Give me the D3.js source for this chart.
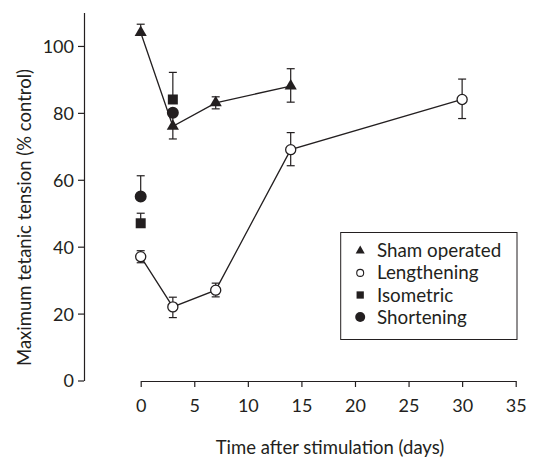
<!DOCTYPE html>
<html><head><meta charset="utf-8">
<script src="https://cdn.jsdelivr.net/npm/d3@7"></script>
<style>
html,body{margin:0;padding:0;background:#fff;}
svg{display:block;}
text{font-family:Lato,"Open Sans",sans-serif;fill:#231f20;}
</style></head>
<body>
<svg id="chart" width="533" height="459"></svg>
<script>
// ---- data ----
const xTickValues = [0, 5, 10, 15, 20, 25, 30, 35];
const yTickValues = [0, 20, 40, 60, 80, 100];
const xTitle = "Time after stimulation (days)";
const yTitle = "Maximum tetanic tension (% control)";

const shamDays = [0, 3, 7, 14];
const shamValues = [104, 76, 83, 88];
const shamErrUp = [2.5, 4, 1.8, 5.2];
const shamErrDown = [0, 3.8, 1.8, 4.8];

const lengthDays = [0, 3, 7, 14, 30];
const lengthValues = [37, 22, 27, 69, 84];
const lengthErrUp = [1.8, 2.9, 2.1, 5.1, 6.1];
const lengthErrDown = [1.8, 3.2, 2.0, 4.8, 5.7];

const isoDays = [0, 3];
const isoValues = [47, 84];
const isoErrUp = [3, 8.1];
const isoErrDown = [0, 0];

const shortDays = [0, 3];
const shortValues = [55, 80];
const shortErrUp = [6.2, 0];
const shortErrDown = [0, 0];

const legendLabels = ["Sham operated", "Lengthening", "Isometric", "Shortening"];

// ---- layout ----
const ink = "#231f20";
const svg = d3.select("#chart");
const x = d3.scaleLinear().domain([0, 35]).range([140.7, 515.7]);
const y = d3.scaleLinear().domain([0, 110]).range([380.5, 12.5]);
const yAxisX = 84, xAxisY = 381;

// y axis
const gy = svg.append("g").attr("transform", `translate(${yAxisX},0)`);
gy.call(d3.axisLeft(y).tickValues(d3.range(10, 100, 20)).tickSize(3.5).tickSizeOuter(0).tickFormat(""));
gy.call(d3.axisLeft(y).tickValues(yTickValues).tickSize(6).tickSizeOuter(0).tickPadding(4).tickFormat(d3.format("d")));
gy.selectAll("path, line").attr("stroke", ink).attr("stroke-width", 1.2);
gy.selectAll("text").attr("font-size", 18).attr("dy", "0.36em").style("font-family", "Lato").attr("fill", ink);

// x axis
const gx = svg.append("g").attr("transform", `translate(0,${xAxisY})`);
gx.call(d3.axisBottom(x).tickValues(d3.range(2.5, 35, 5)).tickSize(3.5).tickSizeOuter(0).tickFormat(""));
gx.call(d3.axisBottom(x).tickValues(xTickValues).tickSize(6).tickSizeOuter(0).tickFormat(d3.format("d")));
gx.selectAll("path, line").attr("stroke", ink).attr("stroke-width", 1.2);
gx.selectAll("text").attr("font-size", 18).attr("dy", null).attr("y", 31).style("font-family", "Lato").attr("fill", ink);

// titles
svg.append("text").attr("x", 330).attr("y", 454).attr("text-anchor", "middle")
  .attr("font-size", 18.5).text(xTitle);
svg.append("text").attr("transform", "translate(31,217.5) rotate(-90)").attr("text-anchor", "middle")
  .attr("font-size", 18.5).text(yTitle);

// helpers
function rows(days, vals, up, down) {
  return days.map((d, i) => ({d, v: vals[i], up: up[i], down: down[i]}));
}
const sham = rows(shamDays, shamValues, shamErrUp, shamErrDown);
const leng = rows(lengthDays, lengthValues, lengthErrUp, lengthErrDown);
const iso = rows(isoDays, isoValues, isoErrUp, isoErrDown);
const shorten = rows(shortDays, shortValues, shortErrUp, shortErrDown);

const gErr = svg.append("g").attr("stroke", ink).attr("stroke-width", 1.2).attr("fill", "none");
function errorBars(data) {
  data.forEach(p => {
    const cx = x(p.d), hi = p.v + p.up, lo = p.v - p.down;
    gErr.append("line").attr("x1", cx).attr("x2", cx).attr("y1", y(hi)).attr("y2", y(lo));
    if (p.up > 0) gErr.append("line").attr("x1", cx - 4).attr("x2", cx + 4).attr("y1", y(hi)).attr("y2", y(hi));
    if (p.down > 0) gErr.append("line").attr("x1", cx - 4).attr("x2", cx + 4).attr("y1", y(lo)).attr("y2", y(lo));
  });
}
[sham, leng, iso, shorten].forEach(errorBars);

const line = d3.line().x(p => x(p.d)).y(p => y(p.v));
svg.append("path").datum(sham).attr("d", line).attr("fill", "none").attr("stroke", ink).attr("stroke-width", 1.3);
svg.append("path").datum(leng).attr("d", line).attr("fill", "none").attr("stroke", ink).attr("stroke-width", 1.3);

const tri = d3.symbol().type(d3.symbolTriangle);
const sq = d3.symbol().type(d3.symbolSquare);
const circ = d3.symbol().type(d3.symbolCircle);

function markers(data, gen, size, fill) {
  svg.append("g").selectAll("path").data(data).join("path")
    .attr("transform", p => `translate(${x(p.d)},${y(p.v)})`)
    .attr("d", gen.size(size)())
    .attr("fill", fill).attr("stroke", ink).attr("stroke-width", fill === "#fff" ? 1.3 : 0);
}
markers(iso, sq, 100, ink);
markers(shorten, circ, 113, ink);
markers(sham, tri, 64, ink);
markers(leng, circ, 80, "#fff");

// legend
const lg = svg.append("g");
lg.append("rect").attr("x", 340.7).attr("y", 232.5).attr("width", 176.3).attr("height", 107)
  .attr("fill", "#fff").attr("stroke", ink).attr("stroke-width", 1);
const legendSyms = [
  {gen: tri, size: 36, fill: ink},
  {gen: circ, size: 38, fill: "#fff"},
  {gen: sq, size: 53, fill: ink},
  {gen: circ, size: 78, fill: ink}
];
legendLabels.forEach((lab, i) => {
  const base = 257.3 + i * 22.1;
  const s = legendSyms[i];
  lg.append("path").attr("transform", `translate(360.2,${base - 6.5})`)
    .attr("d", s.gen.size(s.size)()).attr("fill", s.fill).attr("stroke", ink)
    .attr("stroke-width", s.fill === "#fff" ? 1.1 : 0);
  lg.append("text").attr("x", 377).attr("y", base).attr("font-size", 18.8).text(lab);
});
</script>
</body></html>
